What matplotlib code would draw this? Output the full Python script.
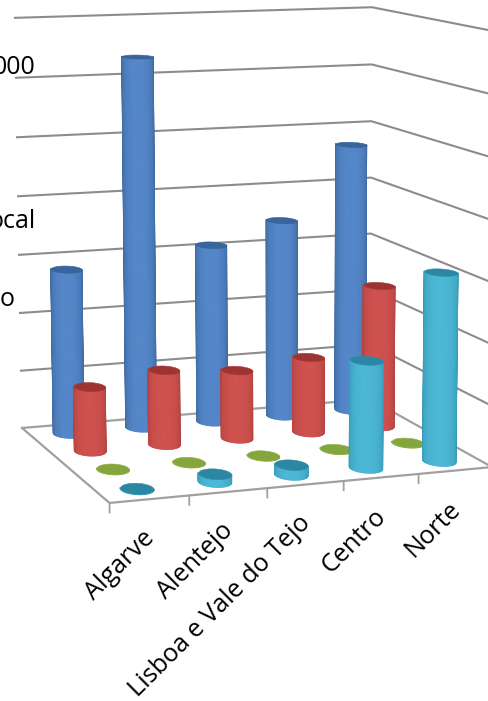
import numpy as np
import matplotlib
matplotlib.use("Agg")
import matplotlib.pyplot as plt
from mpl_toolkits.mplot3d.art3d import Poly3DCollection

# ---------- data ----------
categories = ["Algarve", "Alentejo", "Lisboa e Vale do Tejo", "Centro", "Norte"]
blue_values = [5650, 12700, 6180, 6890, 9400]
red_values = [2170, 2540, 2340, 2600, 4890]
green_values = [20, 20, 20, 20, 20]
teal_values = [20, 260, 330, 3530, 6230]
axis_max = 14000
axis_step = 2000
cut_labels = ["000", "ocal", "o"]

# ---------- camera calibration: world (category, series depth, value) -> pixel ----------
W, H = 488, 701
world_pts = np.array([
    (0, 0, 0), (5, 0, 0), (0, 4, 0), (5, 4, 0),
    (0, 4, 14000), (5, 4, 14000), (0, 4, 8000), (5, 4, 8000),
], float)
pixel_pts = np.array([
    (109.5, 503), (492, 467), (22, 428), (370, 399),
    (15, 18), (372, 7), (18, 196), (371, 178),
], float)


def fit_camera(world, pixel):
    w = world / np.array([1.0, 1.0, 14000.0])
    p = pixel / 500.0
    rows = []
    for (x, y, z), (u, v) in zip(w, p):
        rows.append([x, y, z, 1, 0, 0, 0, 0, -u * x, -u * y, -u * z, -u])
        rows.append([0, 0, 0, 0, x, y, z, 1, -v * x, -v * y, -v * z, -v])
    P = np.linalg.svd(np.array(rows))[2][-1].reshape(3, 4)
    P = np.diag([500.0, 500.0, 1.0]) @ P @ np.diag([1, 1, 1 / 14000.0, 1])
    if (P[2] @ np.array([2.5, 2, 0, 1])) < 0:
        P = -P
    return P


P = fit_camera(world_pts, pixel_pts)


def to_px(x, y, z):
    v = P @ np.array([x, y, z, 1.0])
    return v[:2] / v[2]


plt.rcParams["font.family"] = ["Open Sans", "DejaVu Sans"]
fig = plt.figure(figsize=(W / 100, H / 100), dpi=100, facecolor="white")
ax = fig.add_subplot(projection="3d", computed_zorder=False)
ax.set_position([0, 0, 1, 1])
ax.apply_aspect = lambda position=None: None
ax.set_axis_off()
ax.patch.set_alpha(0)


def camera_matrix():
    inv = ax.transData.inverted()
    v0 = inv.transform((0, H))
    v1 = inv.transform((W, 0))
    sx, sy = (v1 - v0) / np.array([W, H])
    A = np.array([[sx, 0, v0[0]], [0, sy, v0[1]], [0, 0, 1.0]])
    Q = A @ P
    return np.array([Q[0], Q[1], [0, 0, 0, -1.0], Q[2]])


ax.get_proj = camera_matrix
ax.set_xlim(0, 5)
ax.set_ylim(0, 4)
ax.set_zlim(0, axis_max)

# ---------- grid and floor ----------
GRID = "#8c8c8c"
for lev in np.arange(axis_step, axis_max + 1, axis_step):
    ax.plot([0, 5, 5], [4, 4, 0], [lev, lev, lev], color=GRID, lw=1.5, zorder=1)
ax.plot([0, 5, 5, 0, 0], [4, 4, 0, 0, 4], [0, 0, 0, 0, 0], color="#a0a0a0", lw=1.6, zorder=1)
for i in range(len(categories)):
    ax.plot([i, i], [0, 0], [0, -300], color="#a0a0a0", lw=1.3, zorder=1)

# ---------- cylinders ----------
RX, RY = 0.195, 0.27
styles = {
    "blue": dict(center=(0.33, 0.53, 0.79), edge=(0.22, 0.37, 0.58), cap=(0.22, 0.40, 0.61)),
    "red": dict(center=(0.81, 0.32, 0.31), edge=(0.65, 0.24, 0.23), cap=(0.62, 0.20, 0.20)),
    "green": dict(center=(0.62, 0.75, 0.33), edge=(0.55, 0.68, 0.28), cap=(0.52, 0.65, 0.24)),
    "teal": dict(center=(0.30, 0.72, 0.84), edge=(0.18, 0.56, 0.66), cap=(0.17, 0.53, 0.64)),
}


def cylinder(cx, cy, h, st, zorder):
    c0 = to_px(cx, cy, 0)
    a = to_px(cx + RX, cy, 0)[0] - c0[0]
    b = to_px(cx, cy + RY, 0)[0] - c0[0]
    t0 = np.arctan2(b, a) + np.pi
    ts = np.linspace(t0, t0 + np.pi, 37)
    xs = cx + RX * np.cos(ts)
    ys = cy + RY * np.sin(ts)
    verts, cols = [], []
    center, edge = np.array(st["center"]), np.array(st["edge"])
    for k in range(len(ts) - 1):
        verts.append([(xs[k], ys[k], 0), (xs[k + 1], ys[k + 1], 0),
                      (xs[k + 1], ys[k + 1], h), (xs[k], ys[k], h)])
        s = np.sin(np.pi * (k + 0.5) / (len(ts) - 1)) ** 0.7
        cols.append(tuple(edge + (center - edge) * s))
    side = Poly3DCollection(verts, facecolors=cols, edgecolors=cols, linewidths=0.8, zorder=zorder)
    ax.add_collection3d(side, autolim=False)
    tc = np.linspace(0, 2 * np.pi, 61)
    cap_v = [list(zip(cx + RX * np.cos(tc), cy + RY * np.sin(tc), np.full_like(tc, h)))]
    cap = Poly3DCollection(cap_v, facecolors=[st["cap"]], edgecolors=[tuple(edge)],
                           linewidths=0.4, zorder=zorder + 0.5)
    ax.add_collection3d(cap, autolim=False)


series = [("blue", blue_values, 3.5), ("red", red_values, 2.5),
          ("green", green_values, 1.5), ("teal", teal_values, 0.5)]
z = 10
for name, vals, depth in series:
    for i, v in enumerate(vals):
        cylinder(i + 0.5, depth, v, styles[name], z)
        z += 1

# ---------- text ----------
for i, name in enumerate(categories):
    px, py = to_px(i + 0.5, 0, 0)
    fig.text((px + 1) / W, 1 - (py + 35) / H, name, rotation=45, rotation_mode="anchor",
             ha="right", va="center", fontsize=18.2, color="black")

TXT = 18
for label, xp, yp in zip(cut_labels, (36, 36, 15), (68, 222, 300)):
    fig.text(xp / W, 1 - yp / H, label, ha="right", va="center", fontsize=TXT, color="black")

fig.savefig("out.png", dpi=100, facecolor="white")
